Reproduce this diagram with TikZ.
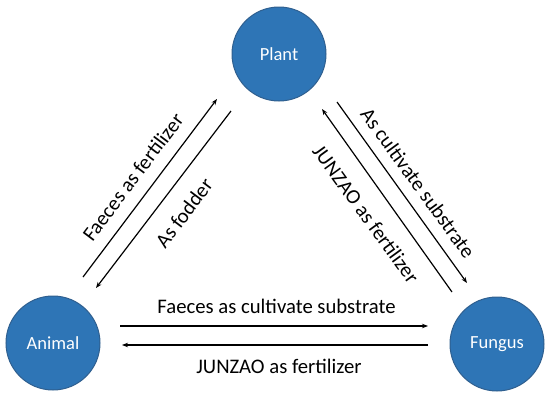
\documentclass[tikz,border=0pt]{standalone}
\usepackage{fontspec}
\setmainfont{Carlito}
\usetikzlibrary{arrows.meta}
\definecolor{circfill}{HTML}{2E75B6}
\definecolor{circline}{HTML}{2F5F8F}
\begin{document}
\begin{tikzpicture}[x=1pt,y=-1pt,
  entity/.style={circle, fill=circfill, draw=circline, line width=1pt, minimum size=94pt, inner sep=0pt, text=white, font=\fontsize{18.5}{22}\selectfont},
  flow/.style={line width=1.2pt, -{Stealth[length=6pt,width=4.5pt]}},
  lbl/.style={font=\fontsize{20.7}{24}\selectfont, inner sep=0pt}]
\useasboundingbox (0,0) rectangle (550,402);
\node[entity] (plant) at (279,54) {Plant};
\node[entity] (animal) at (53,343) {Animal};
\node[entity] (fungus) at (497,344) {Fungus};
% left pair
\coordinate (a1) at (83,277); \coordinate (p1) at (217,99);
\coordinate (p2) at (231,111); \coordinate (a2) at (96,288);
\draw[flow] (a1) -- (p1);
\draw[flow] (p2) -- (a2);
\node[lbl, rotate=53] (l1) at (133,177) {Faeces as fertilizer};
\node[lbl, rotate=53] (l2) at (184,213) {As fodder};
% right pair
\coordinate (p3) at (337,102); \coordinate (f3) at (467,283);
\coordinate (f4) at (452,292); \coordinate (p4) at (322,109);
\draw[flow] (p3) -- (f3);
\draw[flow] (f4) -- (p4);
\node[lbl, rotate=-54] (l3) at (418,183) {As cultivate substrate};
\node[lbl, rotate=-54] (l4) at (366,214) {JUNZAO as fertilizer};
% bottom pair
\coordinate (a5) at (120,326); \coordinate (f5) at (428,326);
\coordinate (f6) at (428,345); \coordinate (a6) at (122,345);
\draw[flow] (a5) -- (f5);
\draw[flow] (f6) -- (a6);
\node[lbl] (l5) at (276.5,306) {Faeces as cultivate substrate};
\node[lbl] (l6) at (279,366) {JUNZAO as fertilizer};
\end{tikzpicture}
\end{document}
